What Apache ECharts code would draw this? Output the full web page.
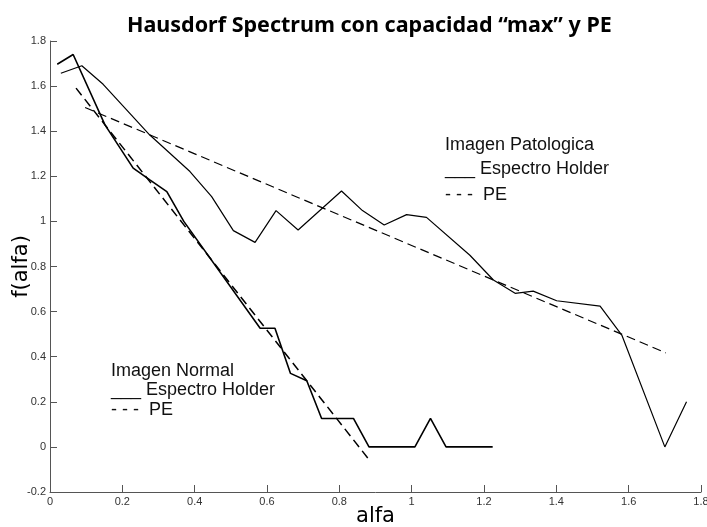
<!DOCTYPE html>
<html>
<head>
<meta charset="utf-8">
<script src="https://cdn.jsdelivr.net/npm/echarts@6/dist/echarts.min.js"></script>
<style>
    html, body { margin: 0; padding: 0; background: #fff; }
    #hausdorf-chart { width: 707px; height: 527px; }
</style>
</head>
<body>
<div id="hausdorf-chart"></div>
<script>
// ticks of both axes
var xTicks = [0, 0.2, 0.4, 0.6, 0.8, 1, 1.2, 1.4, 1.6, 1.8];
var yTicks = [-0.2, 0, 0.2, 0.4, 0.6, 0.8, 1, 1.2, 1.4, 1.6, 1.8];

// Imagen Normal - espectro holder
var normalAlfa = [0.02, 0.064, 0.152, 0.23, 0.276, 0.323, 0.37, 0.581, 0.622, 0.665, 0.71, 0.751, 0.839, 0.882, 1.009, 1.052, 1.095, 1.224];
var normalF    = [1.697, 1.74, 1.428, 1.236, 1.184, 1.132, 1.0, 0.526, 0.526, 0.326, 0.293, 0.126, 0.126, 0, 0, 0.126, 0, 0];
// Imagen Normal - PE
var normalPeAlfa = [0.072, 0.88];
var normalPeF    = [1.591, -0.052];

// Imagen Patologica - espectro holder
var patoAlfa = [0.03, 0.088, 0.147, 0.276, 0.387, 0.447, 0.507, 0.567, 0.625, 0.686, 0.806, 0.864, 0.924, 0.986, 1.041, 1.161, 1.226, 1.286, 1.336, 1.401, 1.521, 1.581, 1.70, 1.76];
var patoF    = [1.657, 1.69, 1.608, 1.383, 1.221, 1.11, 0.959, 0.907, 1.048, 0.962, 1.135, 1.048, 0.984, 1.03, 1.018, 0.85, 0.74, 0.681, 0.691, 0.648, 0.624, 0.496, 0, 0.2];
// Imagen Patologica - PE
var patoPeAlfa = [0.097, 1.703];
var patoPeF    = [1.505, 0.417];

function pares(xs, ys) {
    return xs.map(function (x, i) { return [x, ys[i]]; });
}

var chart = echarts.init(document.getElementById('hausdorf-chart'));

var ejeStyle = { color: '#555', width: 1 };
var textoLeyenda = { fill: '#111', font: '18px "Liberation Sans", Arial, sans-serif' };

const option = {
    animation: false,
    backgroundColor: '#fff',
    title: {
        text: 'Hausdorf Spectrum con capacidad \u201cmax\u201d y PE',
        left: 122,
        top: 10,
        textStyle: {
            fontFamily: '"Noto Sans", sans-serif',
            fontWeight: 'bold',
            fontSize: 21.5,
            color: '#000'
        }
    },
    grid: {
        left: 50,
        right: 6,
        top: 41,
        bottom: 35,
        containLabel: false,
        outerBoundsMode: 'none'
    },
    xAxis: {
        type: 'value',
        min: xTicks[0],
        max: xTicks[xTicks.length - 1],
        interval: xTicks[1] - xTicks[0],
        name: 'alfa',
        nameLocation: 'middle',
        nameGap: 14,
        nameMoveOverlap: false,
        nameTextStyle: { fontFamily: '"DejaVu Sans", sans-serif', fontSize: 21, color: '#000' },
        axisLine: { onZero: false, lineStyle: ejeStyle },
        axisTick: { inside: true, length: 7, lineStyle: ejeStyle },
        axisLabel: { margin: 4, fontFamily: '"Liberation Sans Narrow", "Liberation Sans", sans-serif', fontSize: 11, color: '#333' },
        splitLine: { show: false }
    },
    yAxis: {
        type: 'value',
        min: yTicks[0],
        max: yTicks[yTicks.length - 1],
        interval: yTicks[1] - yTicks[0],
        name: 'f(alfa)',
        nameLocation: 'middle',
        nameGap: 18,
        nameRotate: 90,
        nameMoveOverlap: false,
        nameTextStyle: { fontFamily: '"DejaVu Sans", sans-serif', fontSize: 21, color: '#000' },
        axisLine: { show: true, onZero: false, lineStyle: ejeStyle },
        axisTick: { show: true, inside: true, length: 7, lineStyle: ejeStyle },
        axisLabel: { margin: 4, fontFamily: '"Liberation Sans Narrow", "Liberation Sans", sans-serif', fontSize: 11, color: '#333' },
        splitLine: { show: false }
    },
    graphic: [
        { type: 'text', left: 445, top: 136, style: Object.assign({ text: 'Imagen Patologica' }, textoLeyenda) },
        { type: 'text', left: 445, top: 160, style: Object.assign({ text: '___ Espectro Holder' }, textoLeyenda) },
        { type: 'text', left: 445, top: 186, style: Object.assign({ text: '- - -  PE' }, textoLeyenda) },
        { type: 'text', left: 111, top: 362, style: Object.assign({ text: 'Imagen Normal' }, textoLeyenda) },
        { type: 'text', left: 111, top: 381, style: Object.assign({ text: '___ Espectro Holder' }, textoLeyenda) },
        { type: 'text', left: 111, top: 401, style: Object.assign({ text: '- - -  PE' }, textoLeyenda) }
    ],
    series: [
        {
            name: 'Normal Espectro Holder',
            type: 'line',
            symbol: 'none',
            lineStyle: { color: '#000', width: 1.6 },
            data: pares(normalAlfa, normalF)
        },
        {
            name: 'Normal PE',
            type: 'line',
            symbol: 'none',
            lineStyle: { color: '#000', width: 1.5, type: [9, 5] },
            data: pares(normalPeAlfa, normalPeF)
        },
        {
            name: 'Patologica Espectro Holder',
            type: 'line',
            symbol: 'none',
            lineStyle: { color: '#000', width: 1.2 },
            data: pares(patoAlfa, patoF)
        },
        {
            name: 'Patologica PE',
            type: 'line',
            symbol: 'none',
            lineStyle: { color: '#000', width: 1.2, type: [9, 5] },
            data: pares(patoPeAlfa, patoPeF)
        }
    ]
};
chart.setOption(option);
window.addEventListener('resize', function () {
    chart.resize();
});
</script>
</body>
</html>
